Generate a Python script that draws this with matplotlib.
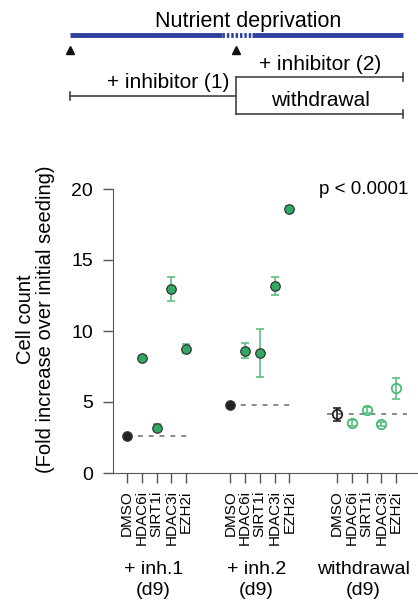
import numpy as np
import matplotlib
matplotlib.use('Agg')
import matplotlib.pyplot as plt

plt.rcParams['font.family'] = ['Liberation Sans', 'DejaVu Sans']

# data
drugs = ['DMSO', 'HDAC6i', 'SIRT1i', 'HDAC3i', 'EZH2i']
groups = ['+ inh.1\n(d9)', '+ inh.2\n(d9)', 'withdrawal\n(d9)']
group_start = [0, 7, 14.25]

inh1_mean = [2.63, 8.1, 3.2, 12.96, 8.75]
inh1_err = [0.05, 0.15, 0.25, 0.87, 0.3]
inh2_mean = [4.77, 8.6, 8.47, 13.17, 18.57]
inh2_err = [0.05, 0.52, 1.68, 0.65, 0.2]
wd_mean = [4.13, 3.5, 4.44, 3.43, 5.96]
wd_err = [0.47, 0.2, 0.2, 0.15, 0.72]

means = [inh1_mean, inh2_mean, wd_mean]
errs = [inh1_err, inh2_err, wd_err]

green = '#30a964'
ebar_green = '#5cbf80'
dark = '#222222'

fig = plt.figure(figsize=(4.18, 6.02), dpi=100)

# ---- main panel ----
ax = fig.add_axes([113/418, 129/602, 304/418, 284/602])
ax.set_xlim(-0.95, 19.66)
ax.set_ylim(0, 20)

dash_ext = [(0, 0.15), (0, 0.4), (-0.68, 0.75)]
for g in range(3):
    x = group_start[g] + np.arange(5)
    m = means[g]
    e = errs[g]
    open_marker = (g == 2)
    for i in range(5):
        ctrl = (i == 0)
        ec = dark if ctrl else ebar_green
        ax.errorbar(x[i], m[i], yerr=e[i], fmt='none', ecolor=ec,
                    elinewidth=1.2, capsize=3, capthick=1.2, zorder=2)
        if open_marker:
            ecol = dark if ctrl else '#4cbb7a'
            ax.plot(x[i], m[i], 'o', ms=6.8, mfc='none', mec=ecol, mew=1.3, zorder=3)
        else:
            fc = dark if ctrl else green
            ax.plot(x[i], m[i], 'o', ms=6.8, mfc=fc, mec='#333333', mew=0.9, zorder=3)
    # dashed control reference line
    ax.plot([x[0] + dash_ext[g][0], x[4] + dash_ext[g][1]], [m[0], m[0]], '--',
            color='#777777', lw=1.2, dashes=(3, 3.5), zorder=1)

ticks = np.concatenate([s + np.arange(5) for s in group_start])
ax.set_xticks(ticks)
ax.set_xticklabels(drugs * 3, rotation=90, fontsize=11)
ax.set_yticks([0, 5, 10, 15, 20])
ax.tick_params(axis='y', labelsize=14, length=7.5, width=1, color='#555555', pad=7)
ax.tick_params(axis='x', length=7.5, width=1, color='#555555', pad=5)
ax.spines['top'].set_visible(False)
ax.spines['right'].set_visible(False)
for s in ['left', 'bottom']:
    ax.spines[s].set_color('#555555')
ax.set_ylabel('Cell count\n(Fold increase over initial seeding)', fontsize=14.5,
              linespacing=1.1)
ax.yaxis.set_label_coords(-0.19, 0.54)
ax.text(0.97, 1.0, 'p < 0.0001', transform=ax.transAxes, ha='right', va='center',
        fontsize=13.5)

for g in range(3):
    fig.text((127 + (group_start[g] + 2) * 14.75) / 418 - 0.008, 1 - 580/602,
             groups[g], ha='center', va='center', fontsize=14, linespacing=1.25)

# ---- schematic on top ----
top = fig.add_axes([0, 0, 1, 1])
top.set_xlim(0, 418)
top.set_ylim(602, 0)
top.axis('off')

blue = '#2f3f9c'
top.plot([70, 222], [35, 35], color=blue, lw=3.5, solid_capstyle='butt')
top.plot([222, 252], [35, 35], color=blue, lw=3.5, dashes=(0.5, 0.4))
top.plot([252, 403], [35, 35], color=blue, lw=3.5, solid_capstyle='butt')
top.text(248, 21, 'Nutrient deprivation', ha='center', va='center', fontsize=15.5)
top.plot([70, 236], [50, 50], '^', color='#111111', ms=6, ls='none')

lc = '#444444'
top.plot([70, 236, 236], [96, 96, 77], color=lc, lw=1.2)
top.plot([236, 236], [96, 114], color=lc, lw=1.2)
top.plot([236, 403], [77, 77], color=lc, lw=1.2)
top.plot([236, 403], [114, 114], color=lc, lw=1.2)
for xx, yy in [(70, 96), (403, 77), (403, 114)]:
    top.plot([xx, xx], [yy - 4, yy + 4], color=lc, lw=1.2)
top.text(168, 82, '+ inhibitor (1)', ha='center', va='center', fontsize=15)
top.text(320, 65, '+ inhibitor (2)', ha='center', va='center', fontsize=15)
top.text(320, 100, 'withdrawal', ha='center', va='center', fontsize=15)

fig.savefig('out.png', dpi=100)
